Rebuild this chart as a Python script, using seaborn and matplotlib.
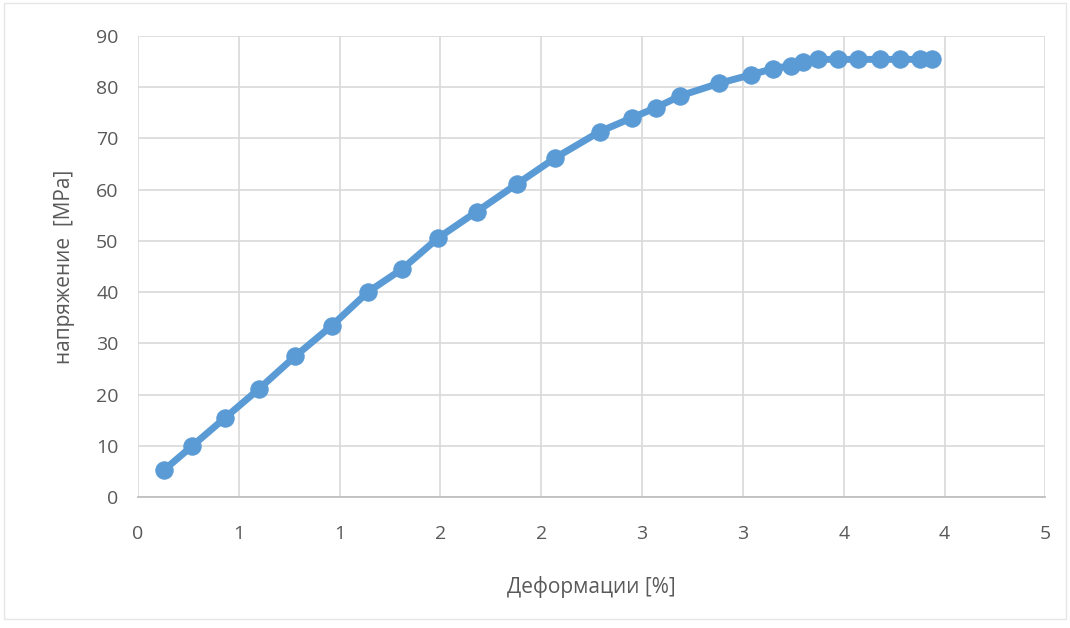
import matplotlib
matplotlib.use('Agg')
import matplotlib.pyplot as plt
import matplotlib.patches as patches
import pandas as pd
import seaborn as sns

# data
strain = [0.13, 0.27, 0.43, 0.60, 0.78, 0.96, 1.14, 1.31, 1.49, 1.68, 1.88,
          2.07, 2.29, 2.45, 2.57, 2.69, 2.88, 3.04, 3.15, 3.24, 3.30, 3.37,
          3.47, 3.57, 3.68, 3.78, 3.88, 3.94]
stress = [5.3, 10.0, 15.4, 21.1, 27.5, 33.4, 40.0, 44.5, 50.6, 55.7, 61.1,
          66.2, 71.3, 74.0, 76.0, 78.3, 80.7, 82.4, 83.6, 84.2, 84.8, 85.4,
          85.4, 85.4, 85.4, 85.4, 85.4, 85.4]
x_ticks = [0, 0.5, 1.0, 1.5, 2.0, 2.5, 3.0, 3.5, 4.0, 4.5]
x_tick_labels = ['0', '1', '1', '2', '2', '3', '3', '4', '4', '5']
y_ticks = [0, 10, 20, 30, 40, 50, 60, 70, 80, 90]

df = pd.DataFrame({'strain': strain, 'stress': stress})

sns.set_style('white')
plt.rcParams['font.family'] = ['Open Sans', 'DejaVu Sans']

fig = plt.figure(figsize=(10.7, 6.28), dpi=100)
ax = fig.add_axes([0.129, 0.2086, 0.848, 0.7344])

blue = '#5B9BD5'
sns.lineplot(data=df, x='strain', y='stress', ax=ax, sort=False,
             color=blue, linewidth=5, marker='o', markersize=12.5,
             markeredgecolor=blue, markerfacecolor=blue, zorder=3)

ax.set_xlim(0, 4.5)
ax.set_ylim(0, 90)
ax.set_xticks(x_ticks)
ax.set_xticklabels(x_tick_labels)
ax.set_yticks(y_ticks)

ax.grid(True, color='#d9d9d9', linewidth=1.2)
ax.set_axisbelow(True)
for s in ['top', 'right', 'left']:
    ax.spines[s].set_visible(False)
ax.spines['bottom'].set_color('#bfbfbf')
ax.spines['bottom'].set_linewidth(1.3)

ax.tick_params(axis='both', length=0, labelsize=14, labelcolor='#595959')
ax.tick_params(axis='x', pad=20)
ax.tick_params(axis='y', pad=14)

ax.set_xlabel('Деформации [%]', fontsize=15, color='#595959', labelpad=24)
ax.set_ylabel('напряжение  [MPa]', fontsize=15, color='#595959', labelpad=15)

# light chart-area frame like the original
fig.patches.append(patches.Rectangle((0.004, 0.015), 0.992, 0.98,
                                     transform=fig.transFigure, fill=False,
                                     edgecolor='#e6e6e6', linewidth=1))

fig.savefig('out.png', dpi=100)
